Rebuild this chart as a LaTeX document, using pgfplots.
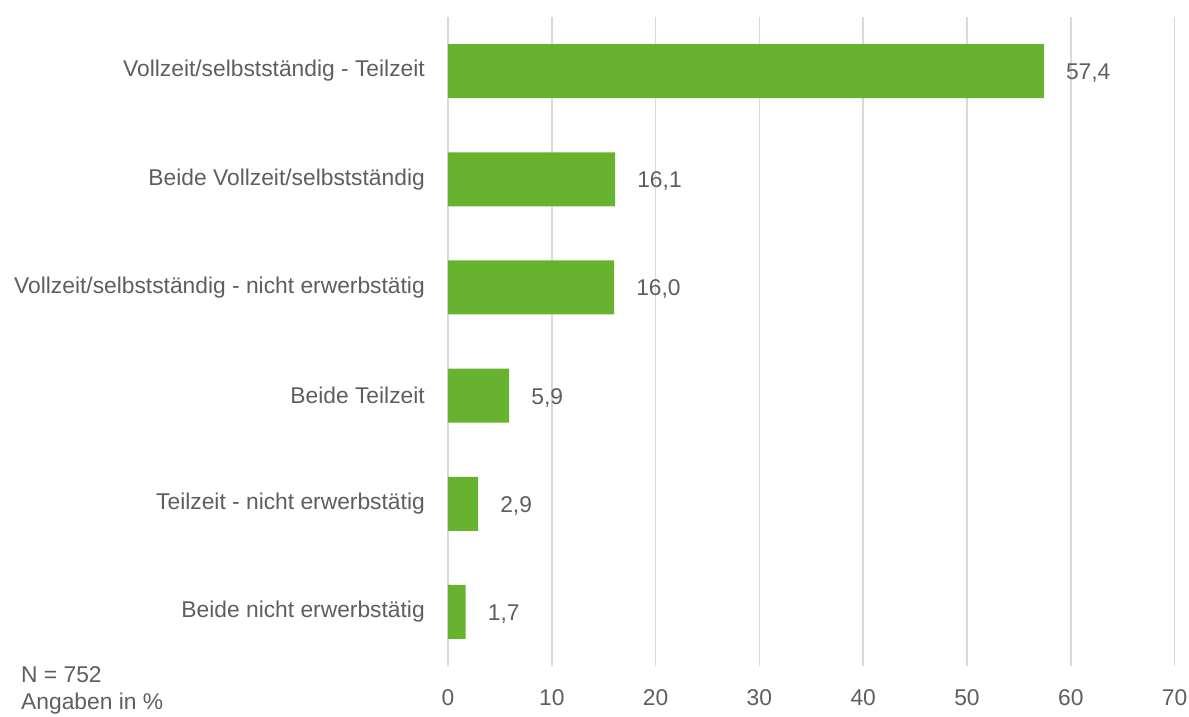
\documentclass[border=0pt]{standalone}
\usepackage{fontspec}
\setmainfont{Liberation Sans}
\usepackage{pgfplots}
\pgfplotsset{compat=1.18}
\definecolor{barg}{HTML}{67B32F}
\definecolor{txt}{HTML}{5E5E5E}
\definecolor{gridc}{HTML}{D9D9D9}
\begin{document}
\begin{tikzpicture}
\path[use as bounding box] (-448pt,-50pt) rectangle (741pt,666pt);
\begin{axis}[
  scale only axis, width=726.6pt, height=649pt,
  anchor=south west, at={(0,0)},
  xbar, bar width=54pt,
  xmin=0, xmax=70, xtick={0,10,...,70},
  ymin=0.5, ymax=6.5, y dir=reverse,
  ytick={1,...,6},
  yticklabels={Vollzeit/selbstständig - Teilzeit,
               Beide Vollzeit/selbstständig,
               Vollzeit/selbstständig - nicht erwerbstätig,
               Beide Teilzeit,
               Teilzeit - nicht erwerbstätig,
               Beide nicht erwerbstätig},
  axis line style={draw=none},
  major tick length=0pt,
  xmajorgrids, major grid style={gridc, line width=1.5pt},
  font=\fontsize{22.8}{27}\selectfont,
  tick label style={txt, font=\fontsize{22.8}{27}\selectfont, inner sep=0pt},
  yticklabel style={xshift=-23pt},
  xticklabel style={yshift=-23pt},
  /pgf/number format/assume math mode=true,
  /pgf/number format/use comma,
  nodes near coords,
  nodes near coords style={anchor=west, inner sep=0pt, xshift=22pt, yshift=-2pt, txt,
    font=\fontsize{22.8}{27}\selectfont,
    /pgf/number format/.cd, fixed, fixed zerofill, precision=1, use comma},
  clip=false,
]
\addplot[draw=none, fill=barg] coordinates {
  (57.4,1) (16.1,2) (16.0,3) (5.9,4) (2.9,5) (1.7,6)
};
\end{axis}
\node[anchor=west, inner sep=0pt, txt, font=\fontsize{22.8}{27}\selectfont] at (-427pt,-9pt) {N = 752};
\node[anchor=west, inner sep=0pt, txt, font=\fontsize{22.8}{27}\selectfont] at (-427pt,-38pt) {Angaben in \%};
\end{tikzpicture}
\end{document}
